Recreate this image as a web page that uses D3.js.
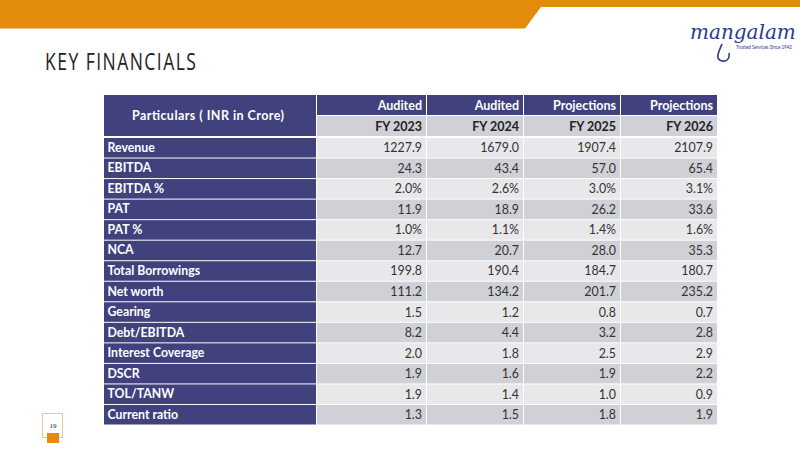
<!DOCTYPE html>
<html>
<head>
<meta charset="utf-8">
<script src="https://cdn.jsdelivr.net/npm/d3@7/dist/d3.min.js"></script>
<style>
  html, body { margin: 0; padding: 0; background: #ffffff; }
  svg { display: block; }
</style>
</head>
<body>
<svg id="chart" width="800" height="476"></svg>
<script>
// ---- data ----
const title = "KEY FINANCIALS";
const headerLabel = "Particulars ( INR in Crore)";
const years = ["FY 2023", "FY 2024", "FY 2025", "FY 2026"];
const yearStatus = ["Audited", "Audited", "Projections", "Projections"];
const particulars = ["Revenue", "EBITDA", "EBITDA %", "PAT", "PAT %", "NCA",
  "Total Borrowings", "Net worth", "Gearing", "Debt/EBITDA", "Interest Coverage",
  "DSCR", "TOL/TANW", "Current ratio"];
const fy2023 = ["1227.9", "24.3", "2.0%", "11.9", "1.0%", "12.7", "199.8", "111.2", "1.5", "8.2", "2.0", "1.9", "1.9", "1.3"];
const fy2024 = ["1679.0", "43.4", "2.6%", "18.9", "1.1%", "20.7", "190.4", "134.2", "1.2", "4.4", "1.8", "1.6", "1.4", "1.5"];
const fy2025 = ["1907.4", "57.0", "3.0%", "26.2", "1.4%", "28.0", "184.7", "201.7", "0.8", "3.2", "2.5", "1.9", "1.0", "1.8"];
const fy2026 = ["2107.9", "65.4", "3.1%", "33.6", "1.6%", "35.3", "180.7", "235.2", "0.7", "2.8", "2.9", "2.2", "0.9", "1.9"];
const pageNumber = "19";
const logoText = "mangalam";
const logoTagline = "Trusted Services Since 1942";

const seriesByYear = [fy2023, fy2024, fy2025, fy2026];

// ---- layout ----
const NAVY = "#41427d";
const ORANGE = "#e38b0b";
const LIGHT = "#e8e8ea";
const DARK = "#d0d0d7";
const FONT = "Lato, 'Open Sans', sans-serif";

const svg = d3.select("#chart");

// banner
svg.append("path")
  .attr("d", "M0,0 L800,0 L800,7 L541,7 L525,28.5 L0,28.5 Z")
  .attr("fill", ORANGE);

// title (condensed by horizontal scaling)
const titleG = svg.append("g");
const titleT = titleG.append("text")
  .attr("x", 0).attr("y", 0)
  .attr("font-family", "'Open Sans', sans-serif")
  .attr("font-size", 24)
  .attr("font-weight", 500)
  .attr("letter-spacing", 2)
  .attr("fill", "#222")
  .text(title);
const tLen = titleT.node().getComputedTextLength() - 2;
titleG.attr("transform", `translate(45,69.5) scale(${151 / tLen},1)`);

// logo
svg.append("text")
  .attr("x", 690).attr("y", 39)
  .attr("font-family", "'DejaVu Serif', serif")
  .attr("font-style", "italic")
  .attr("font-size", 20)
  .attr("fill", "#2b3990")
  .text(logoText);
svg.append("path")
  .attr("d", "M722,44 C718,53 715,59 722,61 C728,62 730,57 729,53")
  .attr("fill", "none").attr("stroke", "#2b3990").attr("stroke-width", 1.6);
svg.append("text")
  .attr("x", 736).attr("y", 49)
  .attr("font-family", FONT)
  .attr("font-size", 5)
  .attr("fill", "#2b3990")
  .attr("textLength", 56)
  .attr("lengthAdjust", "spacingAndGlyphs")
  .text(logoTagline);

// table geometry
const colEdges = [104, 316, 426, 523, 620, 717];
const colLeft = d3.scaleOrdinal().domain(years).range(colEdges.slice(1, 5));
const colRight = d3.scaleOrdinal().domain(years).range(colEdges.slice(2, 6));
const yRow = d3.scaleBand().domain(particulars).range([137, 424.5]).paddingInner(0);
const bw = yRow.bandwidth();
const hTop = 95, hMid = 115.5, hBot = 136;

const g = svg.append("g");

// header: particulars cell
g.append("rect")
  .attr("x", colEdges[0]).attr("y", hTop)
  .attr("width", colEdges[1] - colEdges[0]).attr("height", hBot - hTop)
  .attr("fill", NAVY);
g.append("text")
  .attr("x", (colEdges[0] + colEdges[1]) / 2 - 2).attr("y", (hTop + hBot) / 2 + 4.5)
  .attr("text-anchor", "middle")
  .attr("font-family", FONT).attr("font-weight", "bold").attr("font-size", 12.5)
  .attr("fill", "#fff")
  .attr("textLength", 152)
  .attr("lengthAdjust", "spacing")
  .text(headerLabel);

// header: status row and year row
years.forEach((yr, i) => {
  const x0 = colLeft(yr), x1 = colRight(yr);
  g.append("rect")
    .attr("x", x0 + 1).attr("y", hTop)
    .attr("width", x1 - x0 - 1).attr("height", hMid - hTop - 0.5)
    .attr("fill", NAVY);
  g.append("text")
    .attr("x", x1 - 4).attr("y", hTop + 14.5)
    .attr("text-anchor", "end")
    .attr("font-family", FONT).attr("font-weight", "bold").attr("font-size", 12.5)
    .attr("fill", "#fff")
    .text(yearStatus[i]);
  g.append("rect")
    .attr("x", x0 + 1).attr("y", hMid + 0.5)
    .attr("width", x1 - x0 - 1).attr("height", hBot - hMid - 0.5)
    .attr("fill", DARK);
  g.append("text")
    .attr("x", x1 - 4).attr("y", hMid + 15)
    .attr("text-anchor", "end")
    .attr("font-family", FONT).attr("font-weight", "bold").attr("font-size", 12.5)
    .attr("fill", "#222")
    .text(yr);
});

// body rows
particulars.forEach((p, r) => {
  const y0 = yRow(p);
  g.append("rect")
    .attr("x", colEdges[0]).attr("y", y0 + 1)
    .attr("width", colEdges[1] - colEdges[0]).attr("height", bw - 1)
    .attr("fill", NAVY);
  g.append("text")
    .attr("x", colEdges[0] + 3.5).attr("y", y0 + bw / 2 + 4.5)
    .attr("font-family", FONT).attr("font-weight", "bold").attr("font-size", 12.3)
    .attr("fill", "#fff")
    .text(p);
  years.forEach((yr, c) => {
    const x0 = colLeft(yr), x1 = colRight(yr);
    g.append("rect")
      .attr("x", x0 + 1).attr("y", y0 + 1)
      .attr("width", x1 - x0 - 1).attr("height", bw - 1)
      .attr("fill", r % 2 === 0 ? LIGHT : DARK);
    g.append("text")
      .attr("x", x1 - 4).attr("y", y0 + bw / 2 + 5)
      .attr("text-anchor", "end")
      .attr("font-family", FONT).attr("font-size", 12.4)
      .attr("fill", "#333")
      .text(seriesByYear[c][r]);
  });
});

// page number box
svg.append("rect")
  .attr("x", 42.5).attr("y", 413.5).attr("width", 20).attr("height", 24)
  .attr("fill", "#fff").attr("stroke", "#e8c79a").attr("stroke-width", 1);
svg.append("rect")
  .attr("x", 47).attr("y", 433).attr("width", 12).attr("height", 10)
  .attr("fill", ORANGE);
svg.append("text")
  .attr("x", 53).attr("y", 428)
  .attr("text-anchor", "middle")
  .attr("font-family", "'Liberation Serif', serif").attr("font-size", 7)
  .attr("fill", "#222")
  .text(pageNumber);
</script>
</body>
</html>
